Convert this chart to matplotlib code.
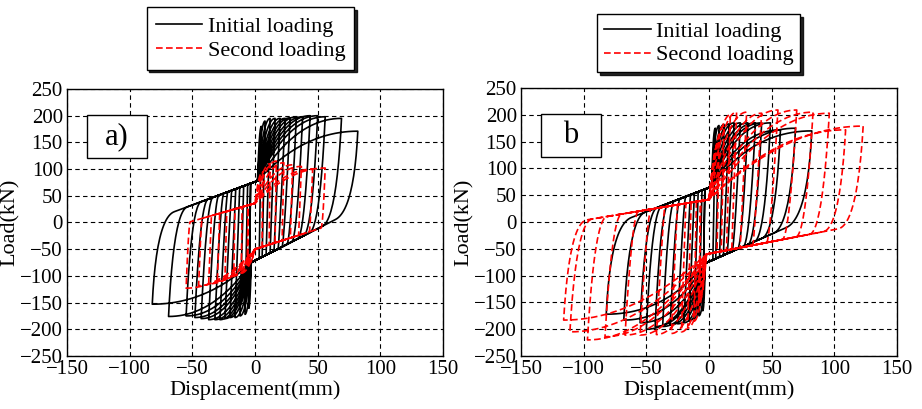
import numpy as np
import matplotlib
matplotlib.use('Agg')
import matplotlib.pyplot as plt
from matplotlib.patches import Rectangle

# peak points of every cycle (mm, kN)
# panel a, initial loading
a1_dpos = [5, 8, 12, 16, 20, 24, 28, 33, 38, 44, 50, 56, 69, 82]
a1_fpos = [180, 190, 195, 195, 195, 195, 196, 198, 198, 200, 200, 198, 195, 171]
a1_dneg = [-5, -8, -12, -16, -20, -24, -28, -32, -37, -43, -48, -55, -69, -82]
a1_fneg = [-160, -172, -175, -178, -178, -180, -182, -182, -182, -180, -178, -175, -176, -153]
# panel a, second loading
a2_dpos = [6, 12, 17, 23, 30, 37, 46, 56]
a2_fpos = [95, 110, 115, 112, 108, 105, 100, 102]
a2_dneg = [-6, -11, -17, -24, -30, -37, -45, -55]
a2_fneg = [-80, -95, -100, -105, -110, -115, -118, -123]
# panel b, initial loading
b1_dpos = [5, 8, 12, 16, 20, 25, 31, 37, 42, 49, 57, 69, 82]
b1_fpos = [175, 180, 182, 183, 185, 185, 185, 185, 185, 185, 172, 175, 170]
b1_dneg = [-5, -8, -12, -16, -20, -25, -31, -37, -43, -50, -55, -68, -82]
b1_fneg = [-165, -175, -180, -185, -188, -190, -192, -195, -195, -200, -188, -183, -172]
# panel b, second loading
b2_dpos = [8, 12, 17, 22, 30, 42, 55, 70, 83, 96, 109, 123]
b2_fpos = [150, 180, 200, 205, 205, 203, 209, 209, 205, 203, 172, 179]
b2_dneg = [-8, -12, -17, -22, -30, -42, -55, -67, -83, -97, -111, -116]
b2_fneg = [-150, -185, -198, -205, -208, -210, -211, -211, -214, -220, -205, -183]

# pinch points where the loops cross (upper, lower)
a1_pinch = [(2, 78), (-3, -75)]
a2_pinch = [(0, 36), (0, -50)]
b1_pinch = [(2, 66), (-3, -77)]
b2_pinch = [(0, 42), (-2, -60)]

labels = ['Initial loading', 'Second loading']
ticks = [-150, -100, -50, 0, 50, 100, 150]
yticks = [-250, -200, -150, -100, -50, 0, 50, 100, 150, 200, 250]


def bez(p0, p1, p2, n=25):
    t = np.linspace(0, 1, n)[:, None]
    p0, p1, p2 = np.array(p0, float), np.array(p1, float), np.array(p2, float)
    return (1 - t) ** 2 * p0 + 2 * (1 - t) * t * p1 + t ** 2 * p2


def branch(x0, f0, x1, f1, pinch, k, w, r, ku, reload=True):
    # unloading -> slip through pinch point -> reloading to next peak
    px, pf = pinch
    cx = x0 + w * (px - x0)
    cf = pf + k * (cx - px)
    # control point: unloading tangent meets the slip line
    xc = (cf - k * cx - f0 + ku * x0) / (ku - k)
    lo, hi = min(x0, cx), max(x0, cx)
    xc = min(max(xc, lo), hi)
    c1 = (xc, cf + k * (xc - cx))
    seg1 = bez((x0, f0), c1, (cx, cf))
    seg2 = bez((cx, cf), ((cx + px) / 2, (cf + pf) / 2), (px, pf), 10)
    if not reload:
        return np.vstack([seg1, seg2[1:]])
    seg3 = bez((px, pf), (px + r * (x1 - px), f1), (x1, f1))
    return np.vstack([seg1, seg2[1:], seg3[1:]])


def hysteresis(dpos, fpos, dneg, fneg, pinch, k_up, k_dn, w, r, ku):
    pts = []
    x0, f0 = dneg[0], fneg[0]
    for i in range(len(dpos)):
        pts.append(branch(x0, f0, dpos[i], fpos[i], pinch[0], k_up, w, r, ku))
        pts.append(branch(dpos[i], fpos[i], dneg[i], fneg[i], pinch[1], k_dn, w, r, ku))
        x0, f0 = dneg[i], fneg[i]
    pts.append(branch(x0, f0, 0, 0, pinch[0], k_up, w, r, ku, reload=False))
    p = np.vstack(pts)
    return p[:, 0], p[:, 1]


plt.rcParams['font.family'] = ['Liberation Serif', 'DejaVu Serif']
plt.rcParams['font.size'] = 16

fig = plt.figure(figsize=(9.22, 4.09), dpi=100)
ax1 = fig.add_axes([0.0727, 0.1296, 0.4078, 0.6528])
ax2 = fig.add_axes([0.5651, 0.1296, 0.4078, 0.6552])

panels = [
    (ax1, 'a)', (0.2717, 0.982), 0.4,
     hysteresis(a1_dpos, a1_fpos, a1_dneg, a1_fneg, a1_pinch, 0.87, 1.2, 0.21, 0.45, 50),
     hysteresis(a2_dpos, a2_fpos, a2_dneg, a2_fneg, a2_pinch, 0.67, 0.75, 0.06, 0.5, 60)),
    (ax2, 'b', (0.758, 0.965), 0.3,
     hysteresis(b1_dpos, b1_fpos, b1_dneg, b1_fneg, b1_pinch, 0.9, 1.03, 0.24, 0.4, 50),
     hysteresis(b2_dpos, b2_fpos, b2_dneg, b2_fneg, b2_pinch, 0.39, 0.45, 0.16, 0.5, 40)),
]

for ax, tag, leg_pos, bpad, first, second in panels:
    l1, = ax.plot(first[0], first[1], color='black', lw=1.2, label=labels[0])
    l2, = ax.plot(second[0], second[1], color='red', lw=1.2, linestyle=(0, (4, 2)), label=labels[1])
    ax.set_xlim(-150, 150)
    ax.set_ylim(-250, 250)
    ax.set_xticks(ticks)
    ax.set_yticks(yticks)
    ax.grid(True, color='black', linestyle=(0, (4, 3)), linewidth=0.8)
    ax.tick_params(length=0, pad=3, labelsize=15)
    ax.set_xlabel('Displacement(mm)', labelpad=1)
    ax.set_ylabel('Load(kN)', labelpad=0)
    for s in ax.spines.values():
        s.set_linewidth(1.0)
    ax.add_patch(Rectangle((0.053, 0.742), 0.16, 0.161, transform=ax.transAxes,
                           facecolor='white', edgecolor='black', lw=1.0, zorder=5))
    ax.text(0.133, 0.822, tag, transform=ax.transAxes, fontsize=22,
            ha='center', va='center', zorder=6)
    ax.legend(handles=[l1, l2], loc='upper center', bbox_to_anchor=leg_pos,
              bbox_transform=fig.transFigure, fancybox=False,
              shadow={'facecolor': 'black', 'edgecolor': 'black', 'alpha': 0.85},
              edgecolor='black', framealpha=1, borderpad=bpad, labelspacing=0.15,
              handlelength=2.1, handletextpad=0.25, borderaxespad=0)

fig.savefig('out.png', dpi=100)
